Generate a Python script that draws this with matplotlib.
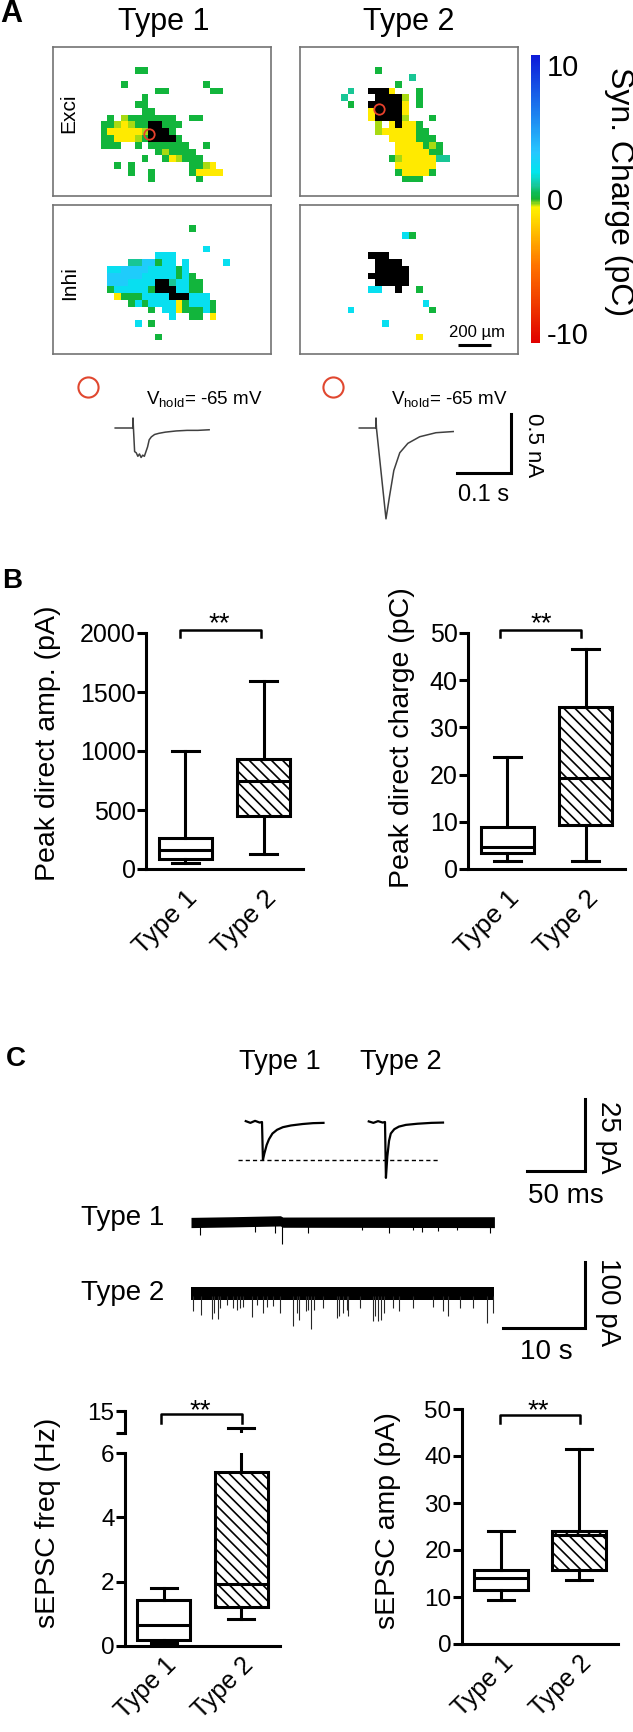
import matplotlib
matplotlib.use('Agg')
import matplotlib.pyplot as plt
import numpy as np
from matplotlib.colors import LinearSegmentedColormap, Normalize
from matplotlib.cm import ScalarMappable

plt.rcParams['font.family'] = ['Liberation Sans', 'DejaVu Sans']
plt.rcParams['axes.unicode_minus'] = False
plt.rcParams['hatch.linewidth'] = 1.2
plt.rcParams['mathtext.fontset'] = 'custom'
plt.rcParams['mathtext.rm'] = 'Liberation Sans'

# ======================= DATA =======================
types = ['Type 1', 'Type 2']

# Synaptic charge maps (pC classes): '.' none, 'k' direct response
charge_code = {'y': -0.9, 'l': -0.35, 'g': 0.15, 't': 1.0, 'c': 2.3, 's': 3.2, 'k': 99.0}

exci_type1 = [
    "", "", "",
    "............gg",
    "",
    "..........g...........g",
    "...............gg......gg",
    ".............g",
    "............gg",
    ".............gg",
    "........g.lggggggg..gg",
    ".......gglylggkkggg",
    ".......gyyyyylkkkg",
    ".......ggyyylgkkkkg",
    ".......ggg..g.gggggg..g",
    "...............glgggg",
    ".............g..gylggg",
    ".........g.g........ggly",
    "...........g..g.....gyyyy",
    "..............g......g",
    "", "",
]
exci_type2 = [
    "", "", "",
    "...........g",
    "................t",
    "..............g",
    ".......t..kkky...g",
    "......t....kkkkl.g",
    ".......g..kkkkky.g",
    "..........ykkkky",
    "..........ykkkkl...g",
    "...........l.ykyyg",
    "...........lyyyyygg",
    ".............yyyyggg",
    "..............yyyyglg",
    "..............yyyyygg",
    ".............glyyyyytt",
    "..............yyyyyy",
    "..............gyyyyg",
    "...............ggg",
    "", "",
]
inhi_type1 = [
    "", "", "",
    "....................g",
    "", "",
    "......................c",
    "...............ccc",
    "...........ttssgcc.c.....c",
    "........ccssssccccgc",
    "........sssssccccc" + "gcg",
    "........ssscccckktccgg",
    "........gcccccgkkkccgg",
    ".........ygggcccckkkccc",
    "...........gcgccccygcccg",
    "..............g.ccygggcg",
    ".................c..gg.y",
    "............c.g",
    "",
    "...............g",
    "", "",
]
inhi_type2 = [
    "", "", "", "",
    "...............cg",
    "", "",
    "..........kkk",
    "...........kkkk",
    "...........kkkkk",
    "..........kkkkkk",
    "...........kkkkk",
    "..........cc..k..g",
    "",
    "..................c",
    ".......c...........g",
    "",
    "............c",
    "",
    ".................y",
    "", "",
]
recorded_cell_site = {0: (13.6, 12.4), 1: (11.1, 8.6)}   # (column, row) on the map grid

# Evoked direct responses (time s from stimulus, current nA)
evoked_t_type1 = [-0.033, 0.0, 0.0, 0.0008, 0.003, 0.006, 0.009, 0.012, 0.015, 0.018, 0.021,
                  0.024, 0.027, 0.030, 0.034, 0.040, 0.048, 0.06, 0.08, 0.10, 0.12, 0.141]
evoked_i_type1 = [0.0, 0.0, 0.085, 0.0, -0.20, -0.21, -0.24, -0.22, -0.25, -0.23, -0.24,
                  -0.20, -0.16, -0.10, -0.075, -0.055, -0.045, -0.035, -0.025, -0.02, -0.02, -0.015]
evoked_t_type2 = [-0.031, 0.0, 0.0, 0.0008, 0.0185, 0.025, 0.033, 0.044, 0.059, 0.081, 0.111, 0.143]
evoked_i_type2 = [0.0, 0.0, 0.085, 0.0, -0.77, -0.58, -0.36, -0.21, -0.13, -0.074, -0.04, -0.03]

# Box plot statistics: [whisker low, Q1, median, Q3, whisker high]
peak_amp_type1 = [51, 85, 161, 263, 1000]
peak_amp_type2 = [127, 449, 746, 932, 1593]
peak_charge_type1 = [1.7, 3.4, 4.7, 8.9, 23.7]
peak_charge_type2 = [1.7, 9.3, 19.3, 34.3, 46.6]
sepsc_freq_type1 = [0.08, 0.19, 0.65, 1.43, 1.8]
sepsc_freq_type2 = [0.84, 1.21, 1.93, 5.4, 12.0]
sepsc_amp_type1 = [9.4, 11.5, 14.0, 15.7, 24.0]
sepsc_amp_type2 = [13.6, 15.7, 23.2, 24.0, 41.5]

# Average sEPSC (ms from onset, pA)
avg_t_type1 = [-14, -10, -6, -2, 0, 0.8, 2, 4, 6, 9, 13, 18, 25, 35, 44, 53]
avg_i_type1 = [0.3, -0.3, 0.4, -0.2, 0, -13.2, -11, -8, -6, -4, -2.7, -1.8, -1.2, -0.7, -0.4, -0.3]
avg_t_type2 = [-14, -10, -6, -2, 0, 0.8, 2, 3.5, 5, 8, 12, 18, 28, 40, 50]
avg_i_type2 = [0.2, -0.3, 0.3, -0.2, 0, -19.4, -12, -6.5, -4, -2.5, -1.6, -1.0, -0.6, -0.3, -0.2]

# Continuous recordings: noise band edges (s, pA) and sEPSC events (s, pA below baseline)
band_t_type1 = [0, 5.0, 10.9, 11.2, 37]
band_top_type1 = [7, 8, 9.5, 7.5, 8]
band_bot_type1 = [-8.5, -7.5, -6, -8, -8.5]
band_t_type2 = [0, 37]
band_top_type2 = [8.6, 8.6]
band_bot_type2 = [-10.6, -10.6]
event_t_type1 = [1.10, 7.80, 10.24, 11.14, 14.31, 20.81, 24.19, 27.11, 28.13, 30.08, 32.40, 36.46]
event_a_type1 = [20, 15, 17, 34, 17, 12, 17, 12, 15, 13, 12, 17]
event_t_type2 = [0.28, 1.18, 2.52, 2.85, 3.32, 3.54, 4.35, 5.16, 5.57, 5.98, 6.38, 7.40, 8.01,
                 8.74, 9.31, 10.04, 10.85, 12.48, 12.89, 13.17, 13.98, 14.31, 14.59, 14.99,
                 16.14, 17.76, 18.09, 18.58, 18.98, 19.19, 20.61, 22.15, 22.44, 22.85, 23.17,
                 23.54, 24.67, 25.41, 27.11, 29.55, 30.77, 31.38, 32.80, 34.43, 36.06, 36.79]
event_a_type2 = [28, 33, 40, 31, 40, 22, 18, 23, 26, 23, 21, 37, 18,
                 31, 21, 20, 31, 50, 31, 41, 27, 26, 55, 26,
                 23, 38, 35, 31, 26, 35, 23, 43, 35, 43, 41,
                 31, 23, 28, 23, 21, 28, 35, 22, 23, 46, 31]

# ======================= FIGURE =======================
W, H = 633, 1732
fig = plt.figure(figsize=(W / 100, H / 100), dpi=100)


def add_ax(x0, y0, x1, y1):
    return fig.add_axes([x0 / W, 1 - y1 / H, (x1 - x0) / W, (y1 - y0) / H])


def ftext(x, y, s, **kw):
    kw.setdefault('ha', 'center')
    kw.setdefault('va', 'center')
    return fig.text(x / W, 1 - y / H, s, **kw)


# ---------- Panel A: maps ----------
vlim = 10.75
stops = [(-10.75, (0.88, 0.0, 0.0)), (-5.0, (1.0, 0.45, 0.0)), (-1.5, (1.0, 0.85, 0.0)),
         (-0.6, (1.0, 0.95, 0.0)), (0.0, (0.08, 0.70, 0.20)), (0.5, (0.05, 0.74, 0.35)),
         (1.0, (0.10, 0.78, 0.60)), (2.0, (0.0, 0.90, 0.93)), (3.5, (0.15, 0.78, 1.0)),
         (10.75, (0.05, 0.10, 0.85))]
cmap = LinearSegmentedColormap.from_list(
    'syn', [((v + vlim) / (2 * vlim), c) for v, c in stops]).with_extremes(over='black', bad='white')
norm = Normalize(-vlim, vlim)

maps = {(0, 0): exci_type1, (1, 0): exci_type2, (0, 1): inhi_type1, (1, 1): inhi_type2}
box_x = [53, 300]
box_y = [47, 205]
NR, NC = 22, 32
for (i, j), rows in maps.items():
    grid = np.full((NR, NC), np.nan)
    for r, row in enumerate(rows):
        for c, ch in enumerate(row):
            if ch in charge_code:
                grid[r, c] = charge_code[ch]
    ax = add_ax(box_x[i], box_y[j], box_x[i] + 218, box_y[j] + 149)
    ax.imshow(grid, cmap=cmap, norm=norm, aspect='auto', interpolation='nearest')
    ax.set_xlim(-0.5, NC - 0.5)
    ax.set_ylim(NR - 0.5, -0.5)
    ax.set_xticks([])
    ax.set_yticks([])
    for s in ax.spines.values():
        s.set_color('0.45')
        s.set_linewidth(1.2)
    if j == 0:
        cx, cy = recorded_cell_site[i]
        ax.plot([cx], [cy], 'o', ms=7.5, mfc='none', mec='#e8412c', mew=1.3)
    if (i, j) == (1, 1):
        ax.plot([22.7, 27.55], [20.2, 20.2], color='k', lw=2.2, solid_capstyle='butt')

ftext(11, 14, 'A', fontsize=22, weight='bold')
ftext(164, 22, 'Type 1', fontsize=22)
ftext(409, 22, 'Type 2', fontsize=22)
ftext(69, 113, 'Exci', rotation=90, fontsize=15)
ftext(70, 283, 'Inhi', rotation=90, fontsize=15)
ftext(477, 332, '200 \u00b5m', fontsize=12)

cax = add_ax(531, 55, 540, 343)
cb = fig.colorbar(ScalarMappable(norm=norm, cmap=cmap), cax=cax, ticks=[10, 0, -10])
cb.outline.set_visible(False)
cb.set_ticklabels(['10', '0', '-10'])
cax.tick_params(length=0, labelsize=21, pad=5)
ftext(619, 192, 'Syn. Charge (pC)', rotation=-90, fontsize=23)

# ---------- Panel A: evoked traces ----------
axA = add_ax(60, 370, 570, 530)
sxA, syA, baseA = 540.0, 118.0, 428
axA.set_xlim(0, 510 / sxA)
axA.set_ylim((baseA - 530) / syA, (baseA - 370) / syA)
axA.axis('off')
onsetA = [(133 - 60) / sxA, (376 - 60) / sxA]
axA.plot(onsetA[0] + np.array(evoked_t_type1), evoked_i_type1, color='0.25', lw=1.1)
axA.plot(onsetA[1] + np.array(evoked_t_type2), evoked_i_type2, color='0.25', lw=1.1)
for cxp in (88, 333):
    axA.plot([(cxp - 60) / sxA], [(baseA - 387) / syA], 'o', ms=14.5, mfc='none',
             mec='#e0472f', mew=1.5, clip_on=False)
xb = (511 - 60) / sxA
ytop = (baseA - 414) / syA
axA.plot([xb - 0.1, xb, xb], [ytop - 0.5, ytop - 0.5, ytop], color='k', lw=2.2,
         solid_joinstyle='miter')
ftext(204, 400, r'V$_{\rm hold}$= -65 mV', fontsize=13.5)
ftext(449, 400, r'V$_{\rm hold}$= -65 mV', fontsize=13.5)
ftext(533, 445, '0.5 nA', rotation=-90, fontsize=16)
ftext(484, 495, '0.1 s', fontsize=17)


# ---------- box plot helper ----------
def box_panel(ax, s1, s2, ylim, yticks, tick_fs=18, xl_fs=19, xl_pad=12):
    stats = [dict(whislo=s[0], q1=s[1], med=s[2], q3=s[3], whishi=s[4], fliers=[], label=l)
             for s, l in zip([s1, s2], types)]
    bp = ax.bxp(stats, positions=[1, 2], widths=0.68, capwidths=0.34, patch_artist=True,
                showfliers=False,
                boxprops=dict(facecolor='white', edgecolor='black', linewidth=2.2),
                whiskerprops=dict(color='black', linewidth=2.2),
                capprops=dict(color='black', linewidth=2.2),
                medianprops=dict(color='black', linewidth=2.2))
    bp['boxes'][1].set_hatch('\\\\\\')
    ax.set_xlim(0.5, 2.5)
    ax.set_ylim(*ylim)
    for s in ['top', 'right']:
        ax.spines[s].set_visible(False)
    for s in ['left', 'bottom']:
        ax.spines[s].set_linewidth(2.2)
    ax.set_yticks(yticks)
    ax.tick_params(axis='y', length=6.5, width=2.2, labelsize=tick_fs, pad=1)
    ax.set_xticks([1, 2])
    ax.set_xticklabels(types, rotation=45, ha='right', rotation_mode='anchor', fontsize=xl_fs)
    ax.tick_params(axis='x', length=0, pad=xl_pad)
    ax.patch.set_visible(False)
    return bp


def bracket(ax, x1, x2, ytop, ybot):
    ax.plot([x1, x1, x2, x2], [ybot, ytop, ytop, ybot], color='k', lw=1.8, clip_on=False)


# ---------- Panel B ----------
ftext(12, 581, 'B', fontsize=20, weight='bold')
axB1 = add_ax(146, 633, 303, 869)
box_panel(axB1, peak_amp_type1, peak_amp_type2, (0, 2000), [0, 500, 1000, 1500, 2000])
bracket(axB1, 0.93, 1.97, 2025, 1966)
ftext(219, 631, '**', fontsize=20, va='baseline')
ftext(48, 743, 'Peak direct amp. (pA)', rotation=90, fontsize=20.5)

axB2 = add_ax(468, 633, 625, 869)
box_panel(axB2, peak_charge_type1, peak_charge_type2, (0, 50), [0, 10, 20, 30, 40, 50])
bracket(axB2, 0.91, 1.94, 50.64, 49.15)
ftext(541, 631, '**', fontsize=20, va='baseline')
ftext(402, 738, 'Peak direct charge (pC)', rotation=90, fontsize=20.5)

# ---------- Panel C: traces ----------
ftext(16, 1059, 'C', fontsize=20, weight='bold')
ftext(280, 1062, 'Type 1', fontsize=19.5)
ftext(401, 1062, 'Type 2', fontsize=19.5)

axCa = add_ax(220, 1085, 600, 1190)
sxC, syC, baseC = 1.16, 2.88, 1122
axCa.set_xlim(0, 380 / sxC)
axCa.set_ylim((baseC - 1190) / syC, (baseC - 1085) / syC)
axCa.axis('off')
onsetC = [(262 - 220) / sxC, (385 - 220) / sxC]
axCa.plot(onsetC[0] + np.array(avg_t_type1), avg_i_type1, color='k', lw=1.6)
axCa.plot(onsetC[1] + np.array(avg_t_type2), avg_i_type2, color='k', lw=1.6)
axCa.plot([onsetC[0] - 20.7, onsetC[1] + 46.6], [min(avg_i_type1)] * 2, color='k', lw=1.0,
          ls=(0, (3, 2.2)))
xbc = (585 - 220) / sxC
ytc = (baseC - 1099) / syC
axCa.plot([xbc - 50, xbc, xbc], [ytc - 25, ytc - 25, ytc], color='k', lw=2.2,
          solid_joinstyle='miter')
ftext(608, 1137, '25 pA', rotation=-90, fontsize=20)
ftext(566, 1196, '50 ms', fontsize=20)

axL = add_ax(185, 1200, 600, 1345)
sxL, syL, baseL = 8.2, 0.66, 1222
axL.set_xlim(-(191 - 185) / sxL, (600 - 191) / sxL)
axL.set_ylim((baseL - 1345) / syL, (baseL - 1200) / syL)
axL.axis('off')
off2 = -(1293 - 1222) / syL
axL.fill_between(band_t_type1, band_bot_type1, band_top_type1, color='k', lw=0)
axL.vlines(event_t_type1, -4, -np.array(event_a_type1), color='k', lw=0.8)
axL.fill_between(band_t_type2, off2 + np.array(band_bot_type2), off2 + np.array(band_top_type2),
                 color='k', lw=0)
axL.vlines(event_t_type2, off2 - 4, off2 - np.array(event_a_type2), color='0.15', lw=0.8)
xbl = (585 - 191) / sxL
ytl = (baseL - 1262) / syL
axL.plot([xbl - 10, xbl, xbl], [ytl - 100, ytl - 100, ytl], color='k', lw=2.2,
         solid_joinstyle='miter', clip_on=False)
ftext(123, 1218, 'Type 1', fontsize=20)
ftext(123, 1293, 'Type 2', fontsize=20)
ftext(608, 1302, '100 pA', rotation=-90, fontsize=20)
ftext(546, 1352, '10 s', fontsize=20)

# ---------- Panel C: box plots ----------
axF = add_ax(125, 1453, 280, 1646)
box_panel(axF, sepsc_freq_type1, sepsc_freq_type2, (0, 6), [0, 2, 4, 6], tick_fs=17.5,
          xl_fs=18, xl_pad=5)
axFu = add_ax(125, 1411, 280, 1433)
box_panel(axFu, sepsc_freq_type1, sepsc_freq_type2, (11, 15), [11, 15], tick_fs=17.5)
axFu.set_yticklabels(['', '15'])
axFu.spines['bottom'].set_visible(False)
axFu.set_xticks([])
bracket(axF, 0.965, 2.01, 7.21, 6.93)
ftext(200, 1418, '**', fontsize=20, va='baseline')
ftext(48, 1523, 'sEPSC freq (Hz)', rotation=90, fontsize=20.5)

axAm = add_ax(462, 1409, 618, 1644)
box_panel(axAm, sepsc_amp_type1, sepsc_amp_type2, (0, 50), [0, 10, 20, 30, 40, 50], tick_fs=17.5,
          xl_fs=18, xl_pad=5)
bracket(axAm, 0.99, 2.01, 48.72, 47.02)
ftext(538, 1418, '**', fontsize=20, va='baseline')
ftext(388, 1521, 'sEPSC amp (pA)', rotation=90, fontsize=20.5)

fig.savefig('out.png', dpi=100)
